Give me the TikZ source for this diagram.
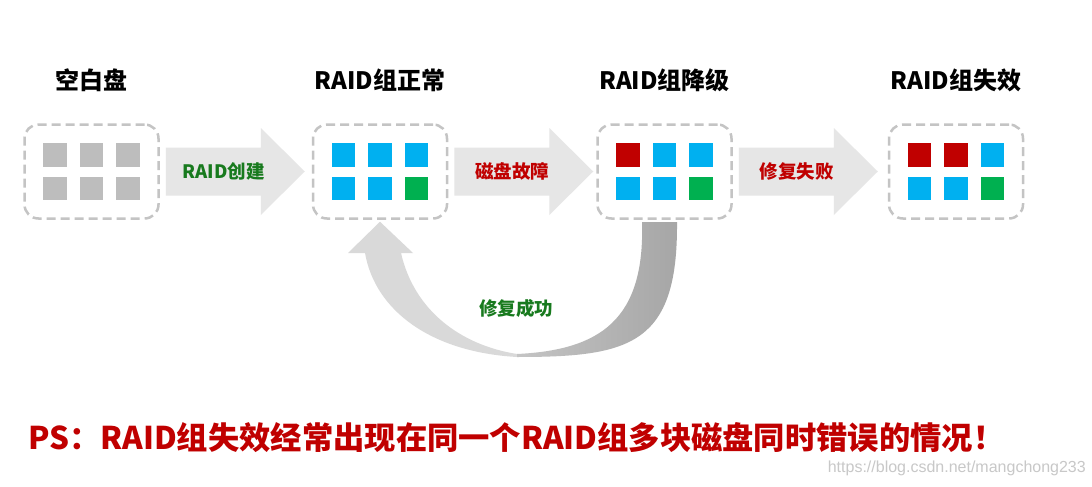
\documentclass[tikz,border=0pt]{standalone}
\usepackage{fontspec}
\setmainfont{Noto Sans CJK SC}
\newfontfamily\markfont{Liberation Sans}
\usepackage{tikz}
\usetikzlibrary{shapes,arrows}

\definecolor{boxgray}{RGB}{196,196,196}
\definecolor{diskgray}{RGB}{189,189,189}
\definecolor{diskblue}{RGB}{0,176,240}
\definecolor{diskgreen}{RGB}{0,176,80}
\definecolor{diskred}{RGB}{192,0,0}
\definecolor{arrowgray}{RGB}{230,230,230}
\definecolor{backlight}{RGB}{217,217,217}
\definecolor{backmid}{RGB}{196,196,196}
\definecolor{backdark}{RGB}{166,166,166}
\definecolor{okgreen}{RGB}{24,122,30}
\definecolor{failred}{RGB}{192,0,0}
\definecolor{markgray}{RGB}{200,200,200}

\begin{document}
\begin{tikzpicture}[x=1pt,y=-1pt,
  diskbox/.style={draw=boxgray, line width=2.5pt, dash pattern=on 9pt off 5pt,
    rounded corners=14pt, minimum width=134pt, minimum height=94pt},
  stagetitle/.style={font=\fontsize{24}{28}\selectfont\bfseries, inner sep=0pt},
  steplabel/.style={font=\fontsize{18.5}{22}\selectfont\bfseries, inner sep=0pt},
  fatarrow/.pic={\fill[arrowgray] (0,-24) -- (95,-24) -- (95,-43.5) -- (139,0)
    -- (95,43.5) -- (95,24) -- (0,24) -- cycle;}]
  \fill[white] (0,0) rectangle (1092,487);
  \useasboundingbox (0,0) rectangle (1092,487);

  \node[diskbox] (b1) at (91.5,171.5) {};
  \node[diskbox] (b2) at (380,171.5) {};
  \node[diskbox] (b3) at (664.5,171.5) {};
  \node[diskbox] (b4) at (956,171.5) {};

  \node[stagetitle] (t1) at ([shift={(0,-91.5)}]b1.center) {空白盘};
  \node[stagetitle] (t2) at ([shift={(0,-91.5)}]b2.center) {RAID组正常};
  \node[stagetitle] (t3) at ([shift={(0,-91.5)}]b3.center) {RAID组降级};
  \node[stagetitle] (t4) at ([shift={(0,-91.5)}]b4.center) {RAID组失效};

  \foreach \b/\cols in {b1/{diskgray,diskgray,diskgray,diskgray,diskgray,diskgray},
                        b2/{diskblue,diskblue,diskblue,diskblue,diskblue,diskgreen},
                        b3/{diskred,diskblue,diskblue,diskblue,diskblue,diskgreen},
                        b4/{diskred,diskred,diskblue,diskblue,diskblue,diskgreen}}
    \foreach \c [count=\k from 0] in \cols {
      \pgfmathsetmacro\cx{mod(\k,3)*36.5-36.5-11.75}
      \pgfmathsetmacro\cy{floor(\k/3)*33.5-16.75-11.75}
      \fill[\c] ([shift={(\cx,\cy)}]\b.center) rectangle ++(23.5,23.5);
    };

  \foreach \s in {b1,b2,b3}
    \pic at ([shift={(6,0)}]\s.east) {fatarrow};
  \node[steplabel, text=okgreen] (l1) at ([shift={(64,0)}]b1.east) {RAID创建};
  \node[steplabel, text=failred] (l2) at ([shift={(64,0)}]b2.east) {磁盘故障};
  \node[steplabel, text=failred] (l3) at ([shift={(64,0)}]b3.east) {修复失败};

  \coordinate (back) at ([shift={(0,2)}]b2.south);
  \fill[backlight] (517,357) .. controls (430,352) and (375,310) .. (365,253)
    -- (348,253) -- (back) -- (413,253) -- (401,253)
    .. controls (414,310) and (460,345) .. (517,354) -- cycle;
  \shade[left color=backmid, right color=backdark] (642,222) -- (677,222)
    .. controls (678,345) and (630,357) .. (517,357) -- (517,354)
    .. controls (600,350) and (645,320) .. (642,222) -- cycle;
  \node[steplabel, text=okgreen] (l4) at (516,308) {修复成功};

  \node[font=\fontsize{31.3}{36}\selectfont\bfseries, text=failred, anchor=west,
    inner sep=0pt] (ps) at (28,438)
    {PS：RAID组失效经常出现在同一个RAID组多块磁盘同时错误的情况！};
  \node[font=\markfont\fontsize{16}{18}\selectfont, text=markgray, anchor=east,
    inner sep=0pt] (mark) at (1086,468) {https://blog.csdn.net/mangchong233};
\end{tikzpicture}
\end{document}
